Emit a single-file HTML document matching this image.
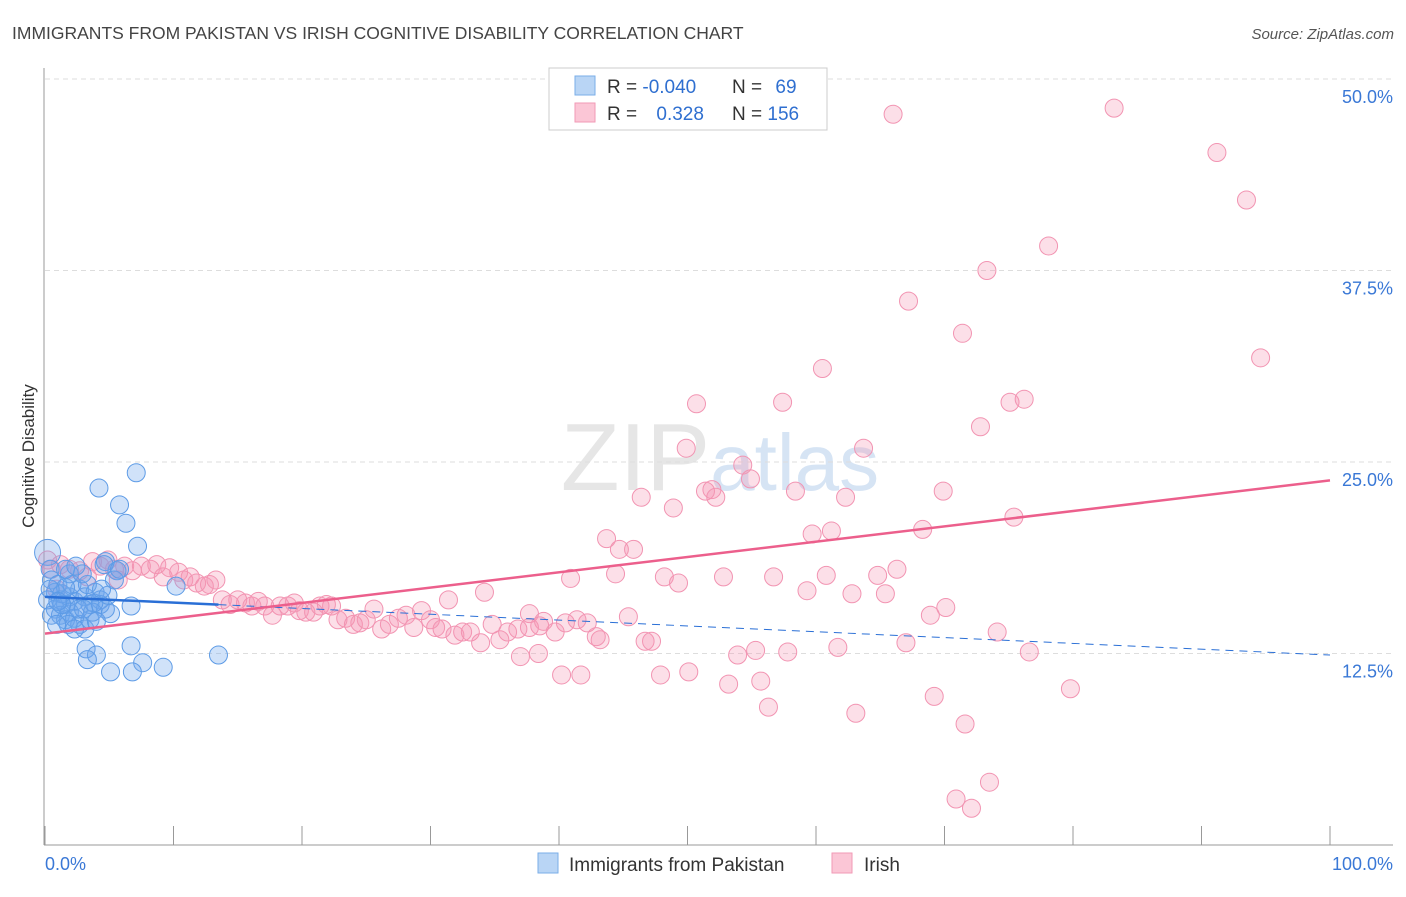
<!DOCTYPE html>
<html><head><meta charset="utf-8"><style>
body{margin:0;background:#fff;font-family:"Liberation Sans",sans-serif}
svg text{font-family:"Liberation Sans",sans-serif}
</style></head><body>
<svg id="chart" width="1406" height="892" xmlns="http://www.w3.org/2000/svg">
<text x="12" y="39" font-size="17.5" fill="#444">IMMIGRANTS FROM PAKISTAN VS IRISH COGNITIVE DISABILITY CORRELATION CHART</text>
<text x="1394" y="39" font-size="15" fill="#555" text-anchor="end" font-style="italic">Source: ZipAtlas.com</text>
<text x="720" y="490" font-size="96" fill="#e6e6e6" text-anchor="middle" font-family="Liberation Serif"><tspan>ZIP</tspan><tspan fill="#d6e4f4" font-family="Liberation Sans" font-size="80">atlas</tspan></text>
<g id="grid"></g>
<g id="axes"></g>
<g id="points"></g>
<g id="trends"></g>
<text transform="translate(34,456) rotate(-90)" font-size="17" fill="#333" text-anchor="middle">Cognitive Disability</text>
<g>
<rect x="549" y="68" width="278" height="62" fill="#fff" stroke="#ccc"/>
<rect x="575" y="76" width="20" height="19" fill="#b9d5f5" stroke="#7aaee8"/>
<rect x="575" y="103" width="20" height="19" fill="#fbc6d6" stroke="#f29ab6"/>
<text x="607" y="93" font-size="19" fill="#333">R = <tspan fill="#2f6fd0">-0.040</tspan></text>
<text x="732" y="93" font-size="19" fill="#333">N = <tspan fill="#2f6fd0" dx="8">69</tspan></text>
<text x="607" y="120" font-size="19" fill="#333">R = <tspan fill="#2f6fd0" dx="14">0.328</tspan></text>
<text x="732" y="120" font-size="19" fill="#333">N = <tspan fill="#2f6fd0">156</tspan></text>
</g>
<g>
<rect x="538" y="853" width="20" height="20" fill="#b9d5f5" stroke="#7aaee8"/>
<text x="569" y="871" font-size="19" fill="#333">Immigrants from Pakistan</text>
<rect x="832" y="853" width="20" height="20" fill="#fbc6d6" stroke="#f29ab6"/>
<text x="864" y="871" font-size="19" fill="#333">Irish</text>
</g>
</svg>
<script>
const yTicks=[12.5,25,37.5,50];
const yTickLabels=["12.5%","25.0%","37.5%","50.0%"];
const xTickLabels=["0.0%","100.0%"];
const blueX=[7.1,4.2,5.8,6.3,7.2,4.7,5.6,10.2,6.7,5.1,13.5,6.7,3.2,4.0,3.3,7.6,5.1,6.8,9.2,0.2,0.4,0.5,0.8,1.2,1.6,1.9,2.3,2.7,3.1,3.5,3.9,4.3,0.8,1.2,1.6,1.9,2.3,2.7,3.1,3.5,4.3,4.7,1.0,1.3,2.1,2.6,1.8,3.7,3.3,5.4,4.6,0.2,0.5,0.9,1.6,2.9,3.8,4.9,2.3,1.3,0.4,1.0,3.0,4.0,4.4,5.8,1.9,1.6,2.4];
const blueY=[24.3,23.3,22.2,21.0,19.5,18.5,17.9,16.9,15.6,15.1,12.4,13.0,12.8,12.4,12.1,11.9,11.3,11.3,11.6,19.1,18.0,17.3,16.5,16.0,15.7,16.2,15.9,16.7,16.2,15.7,16.5,16.0,15.4,15.0,14.7,15.2,14.8,14.4,14.1,14.7,15.7,15.4,17.0,16.4,17.0,15.4,14.4,15.2,17.0,17.3,18.3,16.0,15.0,14.4,16.8,17.7,15.8,16.3,14.1,15.7,16.7,15.9,15.4,14.6,16.7,18.0,17.7,18.0,18.2];
const pinkX=[66.0,83.2,91.2,93.5,78.1,73.3,67.2,71.4,94.6,60.5,50.7,57.4,75.1,76.2,72.8,49.9,63.7,54.3,54.9,46.4,51.4,51.9,52.2,58.4,62.3,69.9,48.9,59.7,61.2,68.3,75.4,43.7,44.7,45.8,40.9,44.4,48.2,49.3,52.8,56.7,59.3,60.8,62.8,64.8,65.4,66.3,68.9,70.1,34.2,31.4,37.7,38.8,40.5,41.4,42.2,43.2,42.9,45.4,46.7,47.2,37.0,38.4,40.2,41.7,47.9,50.1,53.9,55.3,57.8,61.7,67.0,74.1,76.6,79.8,53.2,55.7,56.3,63.1,69.2,71.6,73.5,70.9,72.1,0.2,0.5,1.2,1.9,2.7,3.7,4.3,4.9,5.4,6.2,6.8,7.5,8.2,8.7,9.2,9.7,10.4,10.8,11.3,11.8,12.4,12.8,13.3,13.8,14.4,15.0,15.6,16.1,16.6,17.1,17.7,18.3,18.9,19.4,19.8,20.3,20.9,21.4,21.9,22.3,22.8,23.4,24.0,24.5,25.0,25.6,26.2,26.8,27.5,28.1,28.7,29.3,30.0,30.4,30.9,31.9,32.5,33.1,33.9,34.8,35.4,36.0,36.8,37.7,38.5,39.7,3.3,5.7,0.9];
const pinkY=[47.7,48.1,45.2,42.1,39.1,37.5,35.5,33.4,31.8,31.1,28.8,28.9,28.9,29.1,27.3,25.9,25.9,24.8,23.9,22.7,23.1,23.2,22.7,23.1,22.7,23.1,22.0,20.3,20.5,20.6,21.4,20.0,19.3,19.3,17.4,17.7,17.5,17.1,17.5,17.5,16.6,17.6,16.4,17.6,16.4,18.0,15.0,15.5,16.5,16.0,15.1,14.6,14.5,14.7,14.5,13.4,13.6,14.9,13.3,13.3,12.3,12.5,11.1,11.1,11.1,11.3,12.4,12.7,12.6,12.9,13.2,13.9,12.6,10.2,10.5,10.7,9.0,8.6,9.7,7.9,4.1,3.0,2.4,18.6,18.0,18.3,18.0,17.9,18.5,18.2,18.6,18.0,18.2,17.9,18.2,18.0,18.3,17.5,18.1,17.8,17.3,17.5,17.1,16.9,17.0,17.3,16.0,15.7,16.0,15.8,15.6,15.9,15.6,15.0,15.6,15.6,15.8,15.3,15.2,15.2,15.6,15.7,15.6,14.7,14.8,14.4,14.5,14.7,15.4,14.1,14.4,14.8,15.0,14.2,15.3,14.7,14.2,14.1,13.7,13.9,13.9,13.2,14.4,13.4,13.9,14.1,14.2,14.3,13.9,17.5,17.3,16.7];
const blueTrend=[16.2,12.4];
const pinkTrend=[13.8,23.8];
const blueSolidEnd=13.5;

const NS="http://www.w3.org/2000/svg";
const X0=45,X1=1330,YB=845,YT=79;
function xs(v){return X0+(X1-X0)*v/100;}
function ys(v){return YB-(YB-YT)*v/50;}
function mk(tag,attrs,parent){const e=document.createElementNS(NS,tag);for(const k in attrs)e.setAttribute(k,attrs[k]);parent.appendChild(e);return e;}
const grid=document.getElementById('grid'),axes=document.getElementById('axes'),pts=document.getElementById('points'),tr=document.getElementById('trends');
yTicks.forEach((t,i)=>{
 const l=mk('line',{x1:45,x2:1393,y1:ys(t),y2:ys(t),stroke:'#ddd','stroke-dasharray':'5,4'},grid);
 
 
 const tx=mk('text',{x:1393,y:ys(t)+24,'font-size':18,fill:'#3a78d6','text-anchor':'end'},grid);
 tx.textContent=yTickLabels[i];
 
 
});
const ya=mk('line',{x1:44,x2:44,y1:68,y2:YB,stroke:'#999'},axes);


const xa=mk('line',{x1:44,x2:1393,y1:YB,y2:YB,stroke:'#999'},axes);


for(let i=0;i<=10;i++){
 const t=mk('line',{x1:xs(i*10),x2:xs(i*10),y1:826,y2:YB,stroke:'#999'},axes);
 
 
}
const xl0=mk('text',{x:45,y:870,'font-size':18,fill:'#3a78d6'},axes);
xl0.textContent=xTickLabels[0];


const xl1=mk('text',{x:1393,y:870,'font-size':18,fill:'#3a78d6','text-anchor':'end'},axes);
xl1.textContent=xTickLabels[1];


pinkX.forEach((v,i)=>{
 const c=mk('circle',{cx:xs(v),cy:ys(pinkY[i]),r:9,fill:'rgba(244,150,180,0.3)',stroke:'#f294b2','stroke-width':1},pts);
 
 
});
blueX.forEach((v,i)=>{
 const c=mk('circle',{cx:xs(v),cy:ys(blueY[i]),r:i==19?13:9,fill:'rgba(110,165,235,0.32)',stroke:'#5d9be6','stroke-width':1},pts);
 
 
});
function bv(x){return blueTrend[0]+(blueTrend[1]-blueTrend[0])*x/100;}
const b1=mk('line',{x1:xs(0),y1:ys(bv(0)),x2:xs(blueSolidEnd),y2:ys(bv(blueSolidEnd)),stroke:'#2a6fd6','stroke-width':2.5},tr);


const b2=mk('line',{x1:xs(blueSolidEnd),y1:ys(bv(blueSolidEnd)),x2:xs(100),y2:ys(bv(100)),stroke:'#2a6fd6','stroke-width':1,'stroke-dasharray':'8,6'},tr);


const p1=mk('line',{x1:xs(0),y1:ys(pinkTrend[0]),x2:xs(100),y2:ys(pinkTrend[1]),stroke:'#ec5f8c','stroke-width':2.5},tr);


</script>
</body></html>
